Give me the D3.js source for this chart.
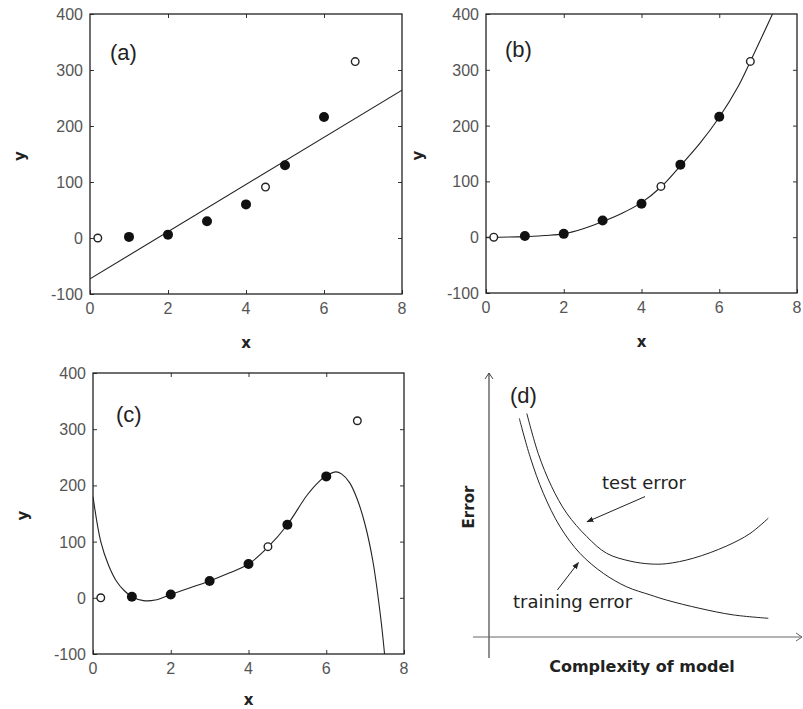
<!DOCTYPE html>
<html>
<head>
<meta charset="utf-8">
<script src="https://cdn.jsdelivr.net/npm/d3@7"></script>
<style>
  body { margin: 0; background: #fff; }
  svg { display: block; }
  .tick-lbl { font-family: "Liberation Sans", Arial, sans-serif; font-size: 16px; fill: #555; }
  .ax-lbl { font-family: "DejaVu Sans", sans-serif; font-size: 15px; font-weight: bold; fill: #222; }
  .panel-lbl { font-family: "Liberation Sans", Arial, sans-serif; font-size: 22px; fill: #222; }
  .d-txt { font-family: "DejaVu Sans", sans-serif; font-size: 18px; fill: #222; }
</style>
</head>
<body>
<svg id="chart" width="803" height="709"></svg>
<script>
// observed points (same in a, b, c)
const trainX = [1, 2, 3, 4, 5, 6];
const trainY = [2, 6, 30, 60, 130, 216];
const testX = [0.2, 4.5, 6.8];
const testY = [0, 91, 315];

const xTicks = [0, 2, 4, 6, 8];
const yTicks = [-100, 0, 100, 200, 300, 400];

// fitted curves
const fitAX = [0, 8];
const fitAY = [-73, 264];
const fitBX = [0, 1, 1.5, 2, 2.5, 3, 3.5, 4, 4.5, 5, 5.5, 6, 6.5, 6.8, 7.37];
const fitBY = [0, 1, 3, 6, 15, 28, 43, 62, 90, 128, 168, 215, 272, 315, 400];
const fitCX = [0, 0.2, 0.4, 0.6, 0.8, 1.0, 1.3, 1.6, 2.0, 2.5, 3.0, 3.5, 4.0, 4.5, 5.0, 5.5, 5.8, 6.0, 6.25, 6.4, 6.6, 6.8, 7.0, 7.2, 7.4, 7.5];
const fitCY = [180, 100, 58, 30, 13, 2, -5, -4, 6, 18, 30, 44, 60, 90, 130, 182, 206, 217, 224, 220, 205, 175, 130, 65, -35, -100];

// panel (d): schematic error curves
const cxTest = [1.26, 1.64, 2.09, 2.59, 3.26, 3.92, 4.70, 5.37, 5.92, 6.81, 7.92, 8.70, 9.31];
const errTest = [8.60, 7.06, 5.78, 4.76, 3.86, 3.22, 2.92, 2.81, 2.82, 3.03, 3.50, 3.98, 4.57];
const cxTrain = [1.01, 1.37, 1.81, 2.37, 3.03, 3.81, 4.59, 5.37, 5.92, 7.03, 8.14, 9.31];
const errTrain = [8.41, 6.93, 5.53, 4.24, 3.22, 2.45, 1.93, 1.62, 1.42, 1.10, 0.85, 0.72];

const svg = d3.select("#chart");

svg.append("defs").append("marker")
    .attr("id", "ahead")
    .attr("viewBox", "0 0 10 10")
    .attr("refX", 9).attr("refY", 5)
    .attr("markerWidth", 7).attr("markerHeight", 7)
    .attr("orient", "auto")
  .append("path")
    .attr("d", "M0,1 L10,5 L0,9 Z")
    .attr("fill", "#222");

function drawPanel(cfg) {
    const x = d3.scaleLinear().domain([0, 8]).range([cfg.x0, cfg.x1]);
    const y = d3.scaleLinear().domain([-100, 400]).range([cfg.y1, cfg.y0]);
    const g = svg.append("g");

    // inward ticks on all four sides
    const tl = 4;
    g.append("g").attr("transform", `translate(0,${cfg.y1})`)
        .call(d3.axisBottom(x).tickValues(xTicks).tickSizeInner(-tl).tickSizeOuter(0).tickFormat(""))
        .call(s => s.select(".domain").remove());
    g.append("g").attr("transform", `translate(0,${cfg.y0})`)
        .call(d3.axisTop(x).tickValues(xTicks.slice(1, -1)).tickSizeInner(-tl).tickSizeOuter(0).tickFormat(""))
        .call(s => s.select(".domain").remove());
    g.append("g").attr("transform", `translate(${cfg.x0},0)`)
        .call(d3.axisLeft(y).tickValues(yTicks).tickSizeInner(-tl).tickSizeOuter(0).tickFormat(""))
        .call(s => s.select(".domain").remove());
    g.append("g").attr("transform", `translate(${cfg.x1},0)`)
        .call(d3.axisRight(y).tickValues(yTicks.slice(1, -1)).tickSizeInner(-tl).tickSizeOuter(0).tickFormat(""))
        .call(s => s.select(".domain").remove());
    g.selectAll(".tick line").attr("stroke", "#333").attr("stroke-width", 1);

    g.append("rect")
        .attr("x", cfg.x0).attr("y", cfg.y0)
        .attr("width", cfg.x1 - cfg.x0).attr("height", cfg.y1 - cfg.y0)
        .attr("fill", "none").attr("stroke", "#222").attr("stroke-width", 1.3);

    // tick labels
    g.selectAll(".xl").data(xTicks).enter().append("text")
        .attr("class", "tick-lbl")
        .attr("x", d => x(d)).attr("y", cfg.y1 + 20)
        .attr("text-anchor", "middle")
        .text(d => d);
    g.selectAll(".yl").data(yTicks).enter().append("text")
        .attr("class", "tick-lbl")
        .attr("x", cfg.x0 - 7).attr("y", d => y(d) + 6)
        .attr("text-anchor", "end")
        .text(d => d);

    g.append("text").attr("class", "ax-lbl")
        .attr("x", (cfg.x0 + cfg.x1) / 2).attr("y", cfg.xLblY)
        .attr("text-anchor", "middle").text("x");
    g.append("text").attr("class", "ax-lbl")
        .attr("transform", `translate(${cfg.yLblX},${(cfg.y0 + cfg.y1) / 2 + 2}) rotate(-90)`)
        .attr("text-anchor", "middle").text("y");

    g.append("text").attr("class", "panel-lbl")
        .attr("x", cfg.lblX).attr("y", cfg.lblY).text(cfg.label);

    // fitted curve, clipped to frame
    const cid = "clip" + cfg.label.replace(/\W/g, "");
    svg.select("defs").append("clipPath").attr("id", cid)
      .append("rect").attr("x", cfg.x0).attr("y", cfg.y0)
        .attr("width", cfg.x1 - cfg.x0).attr("height", cfg.y1 - cfg.y0);
    const line = d3.line().x(d => x(d[0])).y(d => y(d[1])).curve(d3.curveCatmullRom.alpha(0.5));
    g.append("path")
        .datum(d3.zip(cfg.fx, cfg.fy))
        .attr("clip-path", `url(#${cid})`)
        .attr("d", line)
        .attr("fill", "none").attr("stroke", "#222").attr("stroke-width", 1.1);

    g.selectAll(".tr").data(d3.zip(trainX, trainY)).enter().append("circle")
        .attr("cx", d => x(d[0])).attr("cy", d => y(d[1]))
        .attr("r", 5).attr("fill", "#111");
    g.selectAll(".te").data(d3.zip(testX, testY)).enter().append("circle")
        .attr("cx", d => x(d[0])).attr("cy", d => y(d[1]))
        .attr("r", 3.8).attr("fill", "#fff").attr("stroke", "#222").attr("stroke-width", 1.4);
}

drawPanel({x0: 90, x1: 402, y0: 14, y1: 294, yLblX: 25, xLblY: 348, lblX: 110, lblY: 60, label: "(a)", fx: fitAX, fy: fitAY});
drawPanel({x0: 486, x1: 797, y0: 14, y1: 293, yLblX: 423, xLblY: 347, lblX: 505, lblY: 57, label: "(b)", fx: fitBX, fy: fitBY});
drawPanel({x0: 93, x1: 404, y0: 373, y1: 654, yLblX: 28, xLblY: 705, lblX: 116, lblY: 422, label: "(c)", fx: fitCX, fy: fitCY});

// panel (d)
const dx = d3.scaleLinear().domain([0, 10]).range([489, 789]);
const dy = d3.scaleLinear().domain([0, 10]).range([637, 377]);
const dg = svg.append("g");

dg.append("line").attr("x1", dx(0)).attr("x2", dx(0)).attr("y1", 658).attr("y2", 373)
    .attr("stroke", "#444").attr("stroke-width", 1.2);
dg.append("path").attr("d", `M${dx(0) - 4},${379} L${dx(0)},${373} L${dx(0) + 4},${379}`)
    .attr("fill", "none").attr("stroke", "#444").attr("stroke-width", 1);
dg.append("line").attr("x1", 473).attr("x2", 802).attr("y1", dy(0)).attr("y2", dy(0))
    .attr("stroke", "#666").attr("stroke-width", 1);
dg.append("path").attr("d", `M${796},${dy(0) - 4} L${802},${dy(0)} L${796},${dy(0) + 4}`)
    .attr("fill", "none").attr("stroke", "#666").attr("stroke-width", 1);

const dline = d3.line().x(d => dx(d[0])).y(d => dy(d[1])).curve(d3.curveCatmullRom.alpha(0.5));
dg.append("path").datum(d3.zip(cxTest, errTest)).attr("d", dline)
    .attr("fill", "none").attr("stroke", "#222").attr("stroke-width", 1);
dg.append("path").datum(d3.zip(cxTrain, errTrain)).attr("d", dline)
    .attr("fill", "none").attr("stroke", "#222").attr("stroke-width", 1);

dg.append("line").attr("x1", dx(5.2)).attr("y1", dy(5.4)).attr("x2", dx(3.27)).attr("y2", dy(4.43))
    .attr("stroke", "#222").attr("stroke-width", 1).attr("marker-end", "url(#ahead)");
dg.append("line").attr("x1", dx(2.28)).attr("y1", dy(1.81)).attr("x2", dx(2.98)).attr("y2", dy(2.86))
    .attr("stroke", "#222").attr("stroke-width", 1).attr("marker-end", "url(#ahead)");

dg.append("text").attr("class", "d-txt").attr("x", 602).attr("y", 489).text("test error");
dg.append("text").attr("class", "d-txt").attr("x", 513).attr("y", 608).text("training error");
dg.append("text").attr("class", "panel-lbl").attr("x", 510).attr("y", 403).text("(d)");
dg.append("text").attr("class", "ax-lbl").style("font-size", "16px")
    .attr("x", 642).attr("y", 672).attr("text-anchor", "middle").text("Complexity of model");
dg.append("text").attr("class", "ax-lbl")
    .attr("transform", "translate(474,507) rotate(-90)")
    .attr("text-anchor", "middle").text("Error");
</script>
</body>
</html>
